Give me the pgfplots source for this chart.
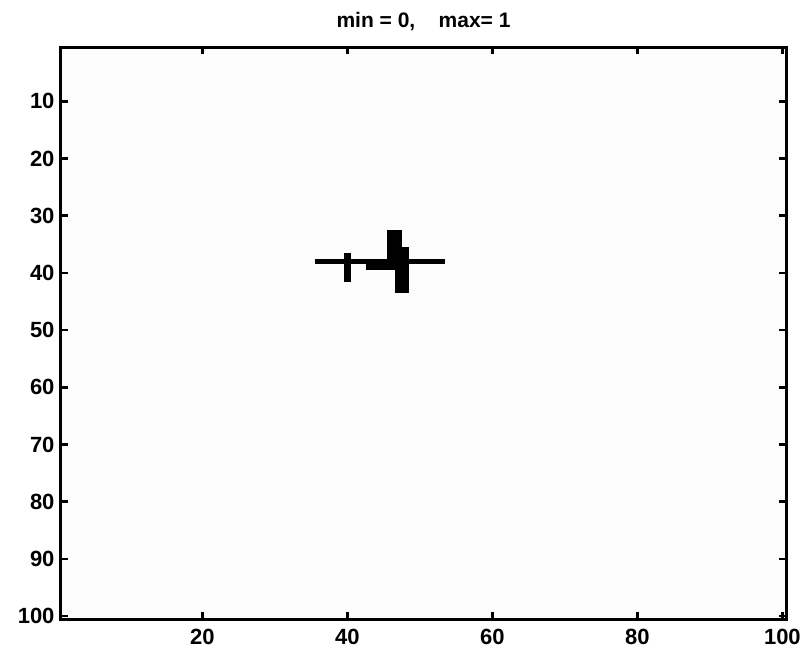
\documentclass[border=0pt]{standalone}
\usepackage{fontspec}
\setmainfont{Liberation Sans}
\usepackage{pgfplots}
\pgfplotsset{compat=1.18}
\definecolor{bgimg}{RGB}{252,252,252}
\begin{document}
\begin{tikzpicture}
\begin{axis}[
  name=ax,
  scale only axis,
  width=725bp, height=572bp,
  xmin=0.5, xmax=100.5, ymin=0.5, ymax=100.5,
  y dir=reverse,
  axis background/.style={fill=bgimg},
  axis line style={line width=3bp, black},
  xtick={20,40,60,80,100},
  ytick={10,20,30,40,50,60,70,80,90,100},
  tick align=inside,
  major tick length=7bp,
  tick style={line width=2.5bp, black},
  /pgf/number format/assume math mode=true,
  ticklabel style={font=\fontsize{22bp}{24bp}\selectfont\bfseries},
  xticklabel style={yshift=-7bp},
  yticklabel style={xshift=-3bp},
  title={min = 0,\ \ \ \ max= 1},
  title style={font=\fontsize{21bp}{23bp}\selectfont\bfseries, yshift=7bp},
  clip=false,
]
\addplot[fill=black, draw=none] coordinates {(35.5,37.5) (53.5,37.5) (53.5,38.5) (35.5,38.5)} -- cycle;
\addplot[fill=black, draw=none] coordinates {(39.5,36.5) (40.5,36.5) (40.5,41.5) (39.5,41.5)} -- cycle;
\addplot[fill=black, draw=none] coordinates {(42.5,37.5) (45.5,37.5) (45.5,39.5) (42.5,39.5)} -- cycle;
\addplot[fill=black, draw=none] coordinates {(45.5,32.5) (46.5,32.5) (46.5,39.5) (45.5,39.5)} -- cycle;
\addplot[fill=black, draw=none] coordinates {(46.5,32.5) (47.5,32.5) (47.5,43.5) (46.5,43.5)} -- cycle;
\addplot[fill=black, draw=none] coordinates {(47.5,35.5) (48.5,35.5) (48.5,43.5) (47.5,43.5)} -- cycle;
\end{axis}
\pgfresetboundingbox
\path ([shift={(-61bp,-39bp)}]ax.south west) rectangle ([shift={(22bp,47bp)}]ax.north east);
\end{tikzpicture}
\end{document}
